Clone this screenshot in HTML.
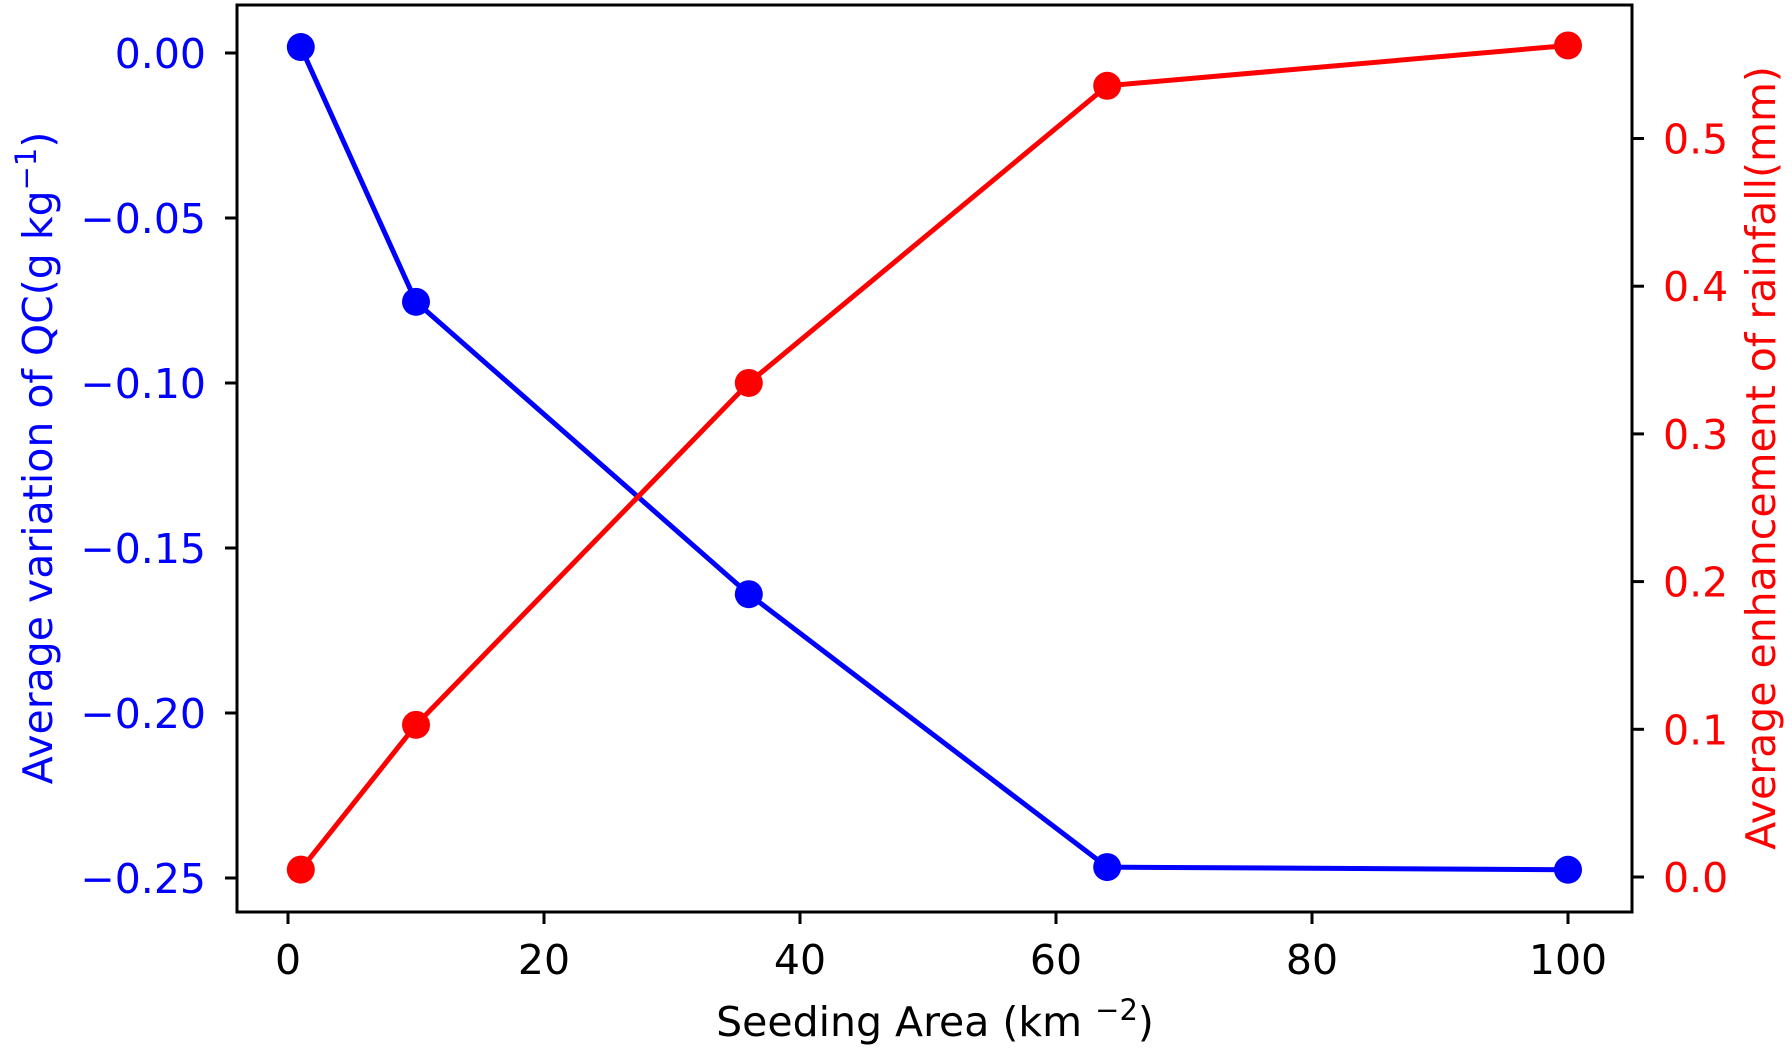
<!DOCTYPE html>
<html><head><meta charset="utf-8"><style>
body{margin:0;background:#fff}
svg{display:block;font-family:"DejaVu Sans","Liberation Sans",sans-serif}
</style></head><body>
<svg id="chart" width="1792" height="1048" viewBox="0 0 1792 1048" xmlns="http://www.w3.org/2000/svg">
<g id="g"></g>
</svg>
<script>
const seedingArea=[1,10,36,64,100];
const qcVariation=[0.0018,-0.0754,-0.164,-0.2467,-0.2475];
const rainEnhancement=[0.005,0.103,0.3345,0.5357,0.563];
const xTicks=[0,20,40,60,80,100];
const leftTicks=[0,-0.05,-0.10,-0.15,-0.20,-0.25];
const leftTickLabels=["0.00","\u22120.05","\u22120.10","\u22120.15","\u22120.20","\u22120.25"];
const rightTicks=[0,0.1,0.2,0.3,0.4,0.5];
const rightTickLabels=["0.0","0.1","0.2","0.3","0.4","0.5"];

const L=237,R=1632,T=5,B=912;
const xs=v=>288+v*12.8;
const yl=v=>53-v*3300;
const yr=v=>877-v*1477;
const NS="http://www.w3.org/2000/svg";
const g=document.getElementById('g');
function mk(tag,attrs,parent){const e=document.createElementNS(NS,tag);for(const k in attrs)e.setAttribute(k,attrs[k]);(parent||g).appendChild(e);return e;}

const blue=mk('polyline',{points:seedingArea.map((x,i)=>xs(x)+','+yl(qcVariation[i])).join(' '),fill:'none',stroke:'#0000ff','stroke-width':5});


seedingArea.forEach((x,i)=>{const c=mk('circle',{cx:xs(x),cy:yl(qcVariation[i]),r:14,fill:'#0000ff'});

});
const red=mk('polyline',{points:seedingArea.map((x,i)=>xs(x)+','+yr(rainEnhancement[i])).join(' '),fill:'none',stroke:'#ff0000','stroke-width':5});


seedingArea.forEach((x,i)=>{const c=mk('circle',{cx:xs(x),cy:yr(rainEnhancement[i]),r:14,fill:'#ff0000'});

});

const fr=mk('rect',{x:L,y:T,width:R-L,height:B-T,fill:'none',stroke:'#000','stroke-width':3});



xTicks.forEach(v=>{mk('line',{x1:xs(v),x2:xs(v),y1:B,y2:B+12,stroke:'#000','stroke-width':3});
const t=mk('text',{x:xs(v),y:974,'text-anchor':'middle','font-size':41,fill:'#000'});t.textContent=v;

});
leftTicks.forEach((v,i)=>{mk('line',{x1:L-12,x2:L,y1:yl(v),y2:yl(v),stroke:'#000','stroke-width':3});
const t=mk('text',{x:206,y:yl(v)+15,'text-anchor':'end','font-size':41,fill:'#0000ff'});t.textContent=leftTickLabels[i];

});
rightTicks.forEach((v,i)=>{mk('line',{x1:R,x2:R+12,y1:yr(v),y2:yr(v),stroke:'#000','stroke-width':3});
const t=mk('text',{x:1663,y:yr(v)+15,'text-anchor':'start','font-size':41,fill:'#ff0000'});t.textContent=rightTickLabels[i];

});
</script>
<svg style="position:absolute;left:0;top:0" width="1792" height="1048" xmlns="http://www.w3.org/2000/svg">
<text x="935" y="1036" text-anchor="middle" font-size="41" font-family="DejaVu Sans, Liberation Sans, sans-serif">Seeding Area (km <tspan dy="-16" font-size="29">−2</tspan><tspan dy="16">)</tspan></text>
<text transform="translate(52,458) rotate(-90)" text-anchor="middle" font-size="41" fill="#0000ff" font-family="DejaVu Sans, Liberation Sans, sans-serif">Average variation of QC(g kg<tspan dy="-16" font-size="29">−1</tspan><tspan dy="16">)</tspan></text>
<text transform="translate(1775,458) rotate(-90)" text-anchor="middle" font-size="41" fill="#ff0000" font-family="DejaVu Sans, Liberation Sans, sans-serif">Average enhancement of rainfall(mm)</text>
</svg>
</body></html>
